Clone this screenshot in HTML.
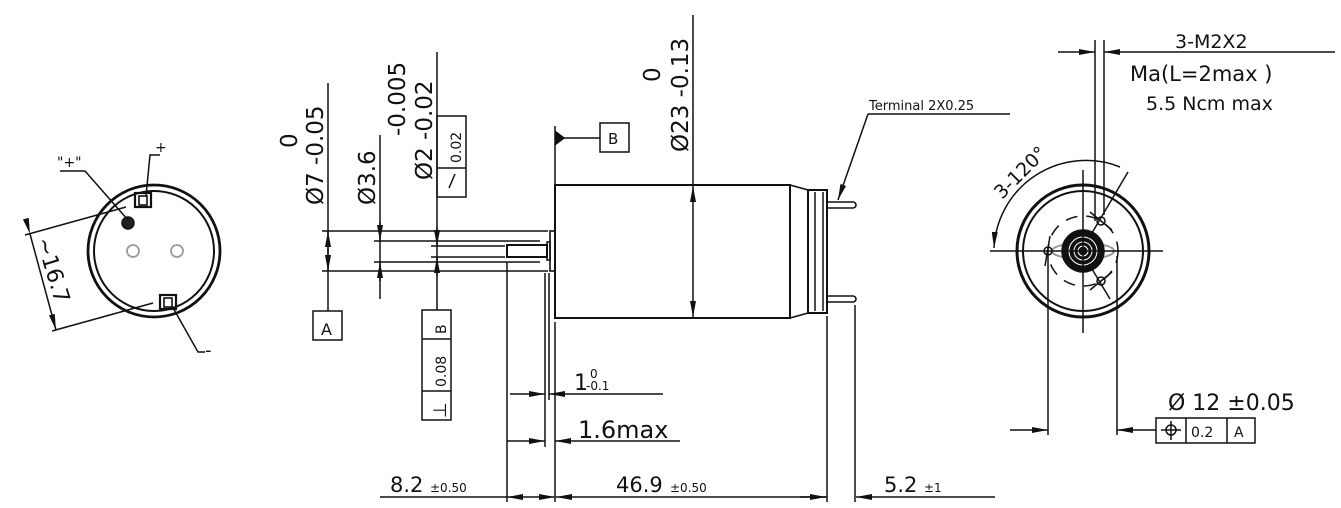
<!DOCTYPE html>
<html><head><meta charset="utf-8"><style>
html,body{margin:0;padding:0;background:#fff;}
svg{display:block;}
text{font-family:"DejaVu Sans","Liberation Sans",sans-serif;fill:#111;}
</style></head><body>
<svg width="1341" height="508" viewBox="0 0 1341 508" xmlns="http://www.w3.org/2000/svg">
<defs>
<marker id="ar" viewBox="0 0 16 6" refX="16" refY="3" markerWidth="16" markerHeight="6" orient="auto" markerUnits="userSpaceOnUse"><path d="M0,0 L16,3 L0,6 z" fill="#111"/></marker>
</defs>
<g stroke="#111" stroke-width="1.5" fill="none">
<!-- LEFT VIEW -->
<circle cx="154" cy="251" r="66" stroke-width="2.8"/>
<circle cx="154" cy="251" r="60" stroke-width="2"/>
<circle cx="133" cy="251" r="6" stroke="#999" stroke-width="1.8"/>
<circle cx="177" cy="251" r="6" stroke="#999" stroke-width="1.8"/>
<circle cx="128" cy="223" r="6" fill="#222"/>
<rect x="135" y="193" width="16" height="14" stroke-width="2.2"/>
<rect x="139" y="196" width="8" height="9" stroke-width="1.6"/>
<rect x="160" y="295" width="16" height="14" stroke-width="2.2"/>
<rect x="164" y="298" width="8" height="9" stroke-width="1.6"/>
<polyline points="60,171 85,171 128,220"/>
<polyline points="160,155 150,155 146,196"/>
<polyline points="205,352 198,352 172,306"/>
<line x1="25" y1="235" x2="126" y2="207"/>
<line x1="52" y1="331" x2="153" y2="303"/>
<line x1="30" y1="234" x2="56" y2="330" marker-start="url(#ar)" marker-end="url(#ar)"/>
<!-- MAIN VIEW: extension lines -->
<line x1="322" y1="231" x2="548" y2="231"/>
<line x1="322" y1="271" x2="548" y2="271"/>
<line x1="374" y1="241" x2="540" y2="241"/>
<line x1="374" y1="262" x2="540" y2="262"/>
<line x1="431" y1="246" x2="505" y2="246"/>
<line x1="431" y1="257" x2="505" y2="257"/>
<!-- Ø7 -->
<line x1="328" y1="83" x2="328" y2="311"/>
<line x1="328" y1="251" x2="328" y2="231" marker-end="url(#ar)"/>
<line x1="328" y1="251" x2="328" y2="271" marker-end="url(#ar)"/>
<rect x="313" y="311" width="29" height="29"/>
<!-- Ø3.6 -->
<line x1="380" y1="135" x2="380" y2="299"/>
<line x1="380" y1="222" x2="380" y2="241" marker-end="url(#ar)"/>
<line x1="380" y1="281" x2="380" y2="262" marker-end="url(#ar)"/>
<!-- Ø2 -->
<line x1="437" y1="52" x2="437" y2="310"/>
<line x1="437" y1="227" x2="437" y2="246" marker-end="url(#ar)"/>
<line x1="437" y1="276" x2="437" y2="257" marker-end="url(#ar)"/>
<rect x="437" y="116" width="29" height="81"/>
<line x1="437" y1="168" x2="466" y2="168"/>
<line x1="449" y1="188" x2="455" y2="174"/>
<rect x="422" y="310" width="29" height="110"/>
<line x1="422" y1="339" x2="451" y2="339"/>
<line x1="422" y1="391" x2="451" y2="391"/>
<!-- shaft & flange -->
<rect x="507" y="245" width="40" height="12" stroke-width="2"/>
<rect x="547" y="242" width="3" height="18"/>
<rect x="550" y="231" width="5" height="40" stroke-width="1.6"/>
<!-- body -->
<rect x="555" y="185" width="235" height="133" stroke-width="2"/>
<polyline points="790,185 808,190 808,313 790,318" stroke-width="1.6"/>
<rect x="808" y="190" width="19" height="123" stroke-width="2"/>
<line x1="815" y1="192" x2="815" y2="311"/>
<line x1="823" y1="192" x2="823" y2="311"/>
<path d="M827,202 H853 a3,3 0 0 1 0,6 H827" stroke-width="1.6"/>
<path d="M827,296 H853 a3,3 0 0 1 0,6 H827" stroke-width="1.6"/>
<!-- datum B -->
<line x1="555" y1="126" x2="555" y2="185"/>
<path d="M556,132 L564,138 L556,144 z" fill="#111"/>
<line x1="556" y1="138" x2="600" y2="138"/>
<rect x="600" y="123" width="29" height="29"/>
<!-- Ø23 -->
<line x1="693" y1="15" x2="693" y2="185"/>
<line x1="693" y1="252" x2="693" y2="186" marker-end="url(#ar)"/>
<line x1="693" y1="252" x2="693" y2="317" marker-end="url(#ar)"/>
<!-- terminal leader -->
<line x1="868" y1="114" x2="1010" y2="114"/>
<line x1="868" y1="114" x2="838" y2="200" marker-end="url(#ar)"/>
<!-- bottom verticals -->
<line x1="507" y1="262" x2="507" y2="502"/>
<line x1="545" y1="273" x2="545" y2="447"/>
<line x1="549" y1="273" x2="549" y2="400"/>
<line x1="555" y1="322" x2="555" y2="502"/>
<line x1="827" y1="316" x2="827" y2="502"/>
<line x1="855" y1="305" x2="855" y2="502"/>
<!-- dims -->
<line x1="510" y1="394" x2="545" y2="394" marker-end="url(#ar)"/>
<line x1="663" y1="394" x2="549" y2="394" marker-end="url(#ar)"/>
<line x1="507" y1="441" x2="545" y2="441" marker-end="url(#ar)"/>
<line x1="680" y1="441" x2="555" y2="441" marker-end="url(#ar)"/>
<line x1="380" y1="497" x2="507" y2="497"/>
<line x1="531" y1="497" x2="507" y2="497" marker-end="url(#ar)"/>
<line x1="531" y1="497" x2="555" y2="497" marker-end="url(#ar)"/>
<line x1="691" y1="497" x2="556" y2="497" marker-end="url(#ar)"/>
<line x1="691" y1="497" x2="826" y2="497" marker-end="url(#ar)"/>
<line x1="995" y1="497" x2="856" y2="497" marker-end="url(#ar)"/>
<line x1="800" y1="497" x2="827" y2="497"/>
<!-- RIGHT VIEW -->
<circle cx="1083" cy="251" r="66" stroke-width="3"/>
<circle cx="1083" cy="251" r="60" stroke-width="2"/>
<circle cx="1083" cy="251" r="35" stroke-dasharray="12,9"/>
<ellipse cx="1083" cy="251" rx="31" ry="8" stroke="#999" stroke-width="2"/>
<circle cx="1083" cy="251" r="21" fill="#111"/>
<circle cx="1083" cy="251" r="14" stroke="#fff" stroke-width="1"/>
<circle cx="1083" cy="251" r="9" stroke="#fff" stroke-width="1"/>
<circle cx="1083" cy="251" r="5" stroke="#fff" stroke-width="1"/>
<line x1="990" y1="251" x2="1163" y2="251"/>
<line x1="1083" y1="170" x2="1083" y2="333"/>
<circle cx="1101" cy="221" r="4"/>
<circle cx="1048" cy="251" r="4"/>
<circle cx="1101" cy="281" r="4"/>
<line x1="1089" y1="238" x2="1128" y2="172"/>
<line x1="1089" y1="264" x2="1110" y2="299"/>
<path d="M1090,212 l22,18 M1090,290 l22,-18 M1050,236 l-5,30"/>
<line x1="1095" y1="40" x2="1095" y2="221"/>
<line x1="1104" y1="40" x2="1104" y2="215"/>
<line x1="1058" y1="52" x2="1095" y2="52" marker-end="url(#ar)"/>
<line x1="1335" y1="52" x2="1104" y2="52" marker-end="url(#ar)"/>
<path d="M1120,167 A92,92 0 0 0 994,248" marker-end="url(#ar)"/>
<line x1="1048" y1="256" x2="1048" y2="435"/>
<line x1="1117" y1="256" x2="1117" y2="435"/>
<line x1="1010" y1="430" x2="1048" y2="430" marker-end="url(#ar)"/>
<line x1="1156" y1="430" x2="1117" y2="430" marker-end="url(#ar)"/>
<rect x="1156" y="418" width="99" height="25"/>
<line x1="1186" y1="418" x2="1186" y2="443"/>
<line x1="1227" y1="418" x2="1227" y2="443"/>
<circle cx="1171" cy="430" r="5"/>
<line x1="1161" y1="430" x2="1181" y2="430"/>
<line x1="1171" y1="421" x2="1171" y2="440"/>
</g>
<!-- TEXT -->
<text x="155" y="152" font-size="14">+</text>
<text x="57" y="167" font-size="14">"+"</text>
<text x="205" y="356" font-size="18">-</text>
<text transform="translate(36,240) rotate(73)" font-size="22">~16.7</text>
<text x="321" y="335" font-size="16">A</text>
<text transform="translate(323,205) rotate(-90)" font-size="23">Ø7 -0.05</text>
<text transform="translate(297,148) rotate(-90)" font-size="23">0</text>
<text transform="translate(375,205) rotate(-90)" font-size="23">Ø3.6</text>
<text transform="translate(432,180) rotate(-90)" font-size="23">Ø2 -0.02</text>
<text transform="translate(405,136) rotate(-90)" font-size="23">-0.005</text>
<text transform="translate(461,163) rotate(-90)" font-size="14">0.02</text>
<text transform="translate(446,387) rotate(-90)" font-size="14">0.08</text>
<text transform="translate(446,334) rotate(-90)" font-size="14">B</text>
<text transform="translate(446,418) rotate(-90)" font-size="18">⊥</text>
<text x="608" y="144" font-size="15">B</text>
<text transform="translate(688,152) rotate(-90)" font-size="23">Ø23 -0.13</text>
<text transform="translate(660,82) rotate(-90)" font-size="23">0</text>
<text x="869" y="110" font-size="13">Terminal 2X0.25</text>
<text x="574" y="390" font-size="22">1</text>
<text x="590" y="378" font-size="12">0</text>
<text x="586" y="390" font-size="12">-0.1</text>
<text x="578" y="438" font-size="24">1.6max</text>
<text x="390" y="492" font-size="21">8.2</text><text x="430" y="492" font-size="12">±0.50</text>
<text x="616" y="492" font-size="21">46.9</text><text x="670" y="492" font-size="12">±0.50</text>
<text x="884" y="492" font-size="21">5.2</text><text x="924" y="492" font-size="12">±1</text>
<text x="1175" y="48" font-size="19">3-M2X2</text>
<text x="1130" y="81" font-size="21">Ma(L=2max )</text>
<text x="1146" y="110" font-size="19">5.5 Ncm max</text>
<text transform="translate(1002,200) rotate(-45)" font-size="19">3-120°</text>
<text x="1168" y="410" font-size="22">Ø 12 ±0.05</text>
<text x="1191" y="437" font-size="14">0.2</text>
<text x="1234" y="437" font-size="14">A</text>
</svg>
</body></html>
